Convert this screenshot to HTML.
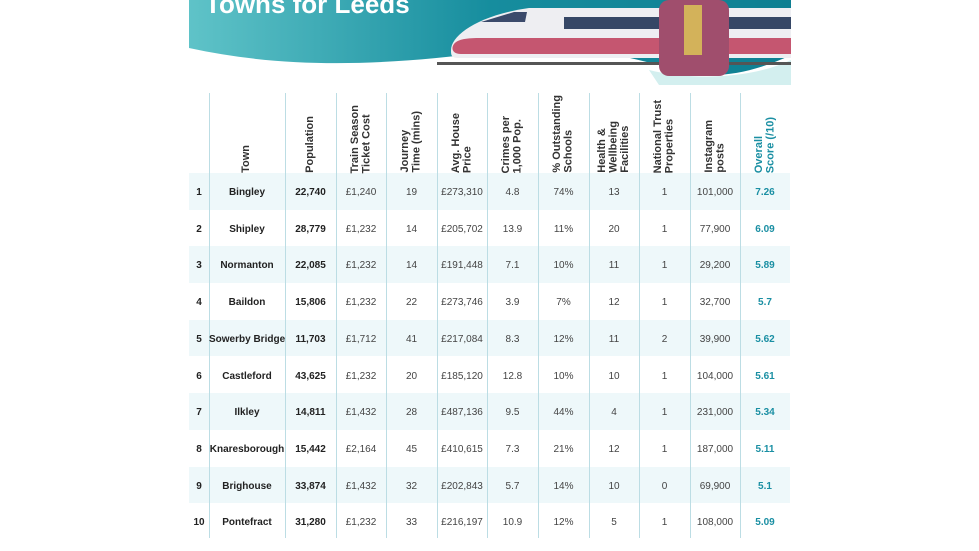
<!DOCTYPE html><html><head><style>
body{margin:0;width:979px;height:551px;background:#fff;position:relative;overflow:hidden;font-family:"Liberation Sans",sans-serif}
.a{position:absolute}
.h{position:absolute;top:93px;height:80px;display:flex;align-items:flex-end;justify-content:center}
.h span{writing-mode:vertical-rl;transform:rotate(180deg);font-size:11px;line-height:11.5px;color:#333;font-weight:bold;text-align:left;padding-bottom:10px;white-space:nowrap}
.c{position:absolute;font-size:10px;color:#444;text-align:center;line-height:36.7px;white-space:nowrap}
.vl{position:absolute;width:1px;background:#bcdde4;top:93px;height:445px}
</style></head><body>
<svg class="a" style="left:189px;top:0" width="602" height="85">
<defs><linearGradient id="g" x1="0" x2="1"><stop offset="0" stop-color="#5fc3c8"/><stop offset=".5" stop-color="#168d9e"/><stop offset="1" stop-color="#0e7f92"/></linearGradient></defs>
<path d="M0 0H602V55C560 75 520 80 490 70 430 55 380 40 300 52 200 65 100 70 0 48Z" fill="url(#g)"/>
<path d="M460 70C500 80 560 80 602 60V85H470Z" fill="#a7dfe0" opacity=".5"/>
<path d="M262 50C262 35 290 15 340 8H602V58H270C262 58 262 55 262 50Z" fill="#eeeef2"/>
<path d="M265 44C268 40 275 38 290 38H602V54H272C263 54 262 48 265 44Z" fill="#c55670"/>
<path d="M292 22L325 12 338 12 336 22Z" fill="#3b4a6b"/>
<rect x="375" y="17" width="227" height="12" fill="#364766"/>
<rect x="248" y="62" width="354" height="3" fill="#555"/>
<rect x="470" y="0" width="70" height="76" rx="10" fill="#a04e6d"/>
<rect x="495" y="5" width="18" height="50" fill="#d3b25a"/>
<text x="16" y="13" font-family="Liberation Sans" font-weight="bold" font-size="26" fill="#fff">Towns for Leeds</text>
</svg>
<div class="a" style="left:189px;top:173px;width:601px;height:36.7px;background:#eef8fa"></div>
<div class="a" style="left:189px;top:246.4px;width:601px;height:36.7px;background:#eef8fa"></div>
<div class="a" style="left:189px;top:319.8px;width:601px;height:36.7px;background:#eef8fa"></div>
<div class="a" style="left:189px;top:393.2px;width:601px;height:36.7px;background:#eef8fa"></div>
<div class="a" style="left:189px;top:466.6px;width:601px;height:36.7px;background:#eef8fa"></div>
<div class="vl" style="left:209px"></div><div class="vl" style="left:285px"></div><div class="vl" style="left:336px"></div><div class="vl" style="left:386px"></div><div class="vl" style="left:437px"></div><div class="vl" style="left:487px"></div><div class="vl" style="left:538px"></div><div class="vl" style="left:589px"></div><div class="vl" style="left:639px"></div><div class="vl" style="left:690px"></div><div class="vl" style="left:740px"></div>
<div class="h" style="left:209px;width:76px"><span>Town</span></div>
<div class="h" style="left:285px;width:51px"><span>Population</span></div>
<div class="h" style="left:336px;width:50px"><span>Train Season<br>Ticket Cost</span></div>
<div class="h" style="left:386px;width:51px"><span>Journey<br>Time (mins)</span></div>
<div class="h" style="left:437px;width:50px"><span>Avg. House<br>Price</span></div>
<div class="h" style="left:487px;width:51px"><span>Crimes per<br>1,000 Pop.</span></div>
<div class="h" style="left:538px;width:51px"><span>% Outstanding<br>Schools</span></div>
<div class="h" style="left:589px;width:50px"><span>Health &amp;<br>Wellbeing<br>Facilities</span></div>
<div class="h" style="left:639px;width:51px"><span>National Trust<br>Properties</span></div>
<div class="h" style="left:690px;width:50px"><span>Instagram<br>posts</span></div>
<div class="h" style="left:740px;width:50px"><span style="color:#1a8fa3">Overall<br>Score (/10)</span></div>
<div id="rows"></div>
<script>
var d=[["1","Bingley","22,740","£1,240","19","£273,310","4.8","74%","13","1","101,000","7.26"],["2","Shipley","28,779","£1,232","14","£205,702","13.9","11%","20","1","77,900","6.09"],["3","Normanton","22,085","£1,232","14","£191,448","7.1","10%","11","1","29,200","5.89"],["4","Baildon","15,806","£1,232","22","£273,746","3.9","7%","12","1","32,700","5.7"],["5","Sowerby Bridge","11,703","£1,712","41","£217,084","8.3","12%","11","2","39,900","5.62"],["6","Castleford","43,625","£1,232","20","£185,120","12.8","10%","10","1","104,000","5.61"],["7","Ilkley","14,811","£1,432","28","£487,136","9.5","44%","4","1","231,000","5.34"],["8","Knaresborough","15,442","£2,164","45","£410,615","7.3","21%","12","1","187,000","5.11"],["9","Brighouse","33,874","£1,432","32","£202,843","5.7","14%","10","0","69,900","5.1"],["10","Pontefract","31,280","£1,232","33","£216,197","10.9","12%","5","1","108,000","5.09"]];
var x=[189,209,285,336,386,437,487,538,589,639,690,740,790],h="";
d.forEach(function(r,i){r.forEach(function(v,j){var s="left:"+x[j]+"px;width:"+(x[j+1]-x[j])+"px;top:"+(175+i*36.7)+"px;";
if(j<3)s+="font-weight:bold;color:#222;";if(j==11)s+="font-weight:bold;color:#1a8fa3;";
h+='<div class="c" style="'+s+'">'+v+'</div>';});});
document.getElementById("rows").innerHTML=h;
</script>
</body></html>
